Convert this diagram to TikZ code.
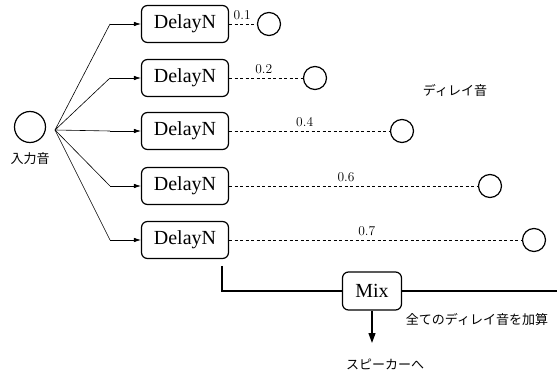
\documentclass[tikz,border=0pt]{standalone}
\usepackage{fontspec}
\newfontfamily\jafont{Noto Sans CJK JP}
\newfontfamily\boxfont{Liberation Serif}
\usetikzlibrary{arrows.meta,positioning}

\begin{document}
\begin{tikzpicture}[x=1pt,y=-1pt]
  % Styles
  \tikzset{
    delay box/.style={draw,line width=1.2pt,rounded corners=6pt,minimum width=87pt,
      minimum height=37pt,inner sep=0pt,font=\boxfont\fontsize{20}{24}\selectfont},
    sound/.style={draw,circle,line width=1.2pt,minimum size=23pt,inner sep=0pt},
    feed/.style={line width=0.6pt,-{Latex[length=7pt,width=4.5pt]}},
    wet line/.style={dash pattern=on 3pt off 2.5pt,line width=0.7pt},
    gain/.style={font=\fontsize{13.5}{15}\selectfont,above=1pt},
    ja text/.style={font=\jafont\fontsize{13}{15}\selectfont},
    mix line/.style={line width=1.2pt}
  }
  \useasboundingbox (0,0) rectangle (557,374);

  % Input
  \node[sound,minimum size=31pt] (in) at (30,127) {};
  \node[ja text,below=6pt of in] (inlabel) {入力音};
  \coordinate (fan) at (55,130);

  % Delay taps
  \foreach \i/\y/\x/\g in {1/24/269/0.1,2/78/315/0.2,3/131/402/0.4,4/186/490/0.6,5/240/534/0.7}{
    \node[delay box] (d\i) at (185,\y) {DelayN};
    \node[sound] (out\i) at (\x,\y) {};
    \draw[line width=0.6pt] (fan) -- (110,\y) coordinate (bend\i);
    \draw[feed] (bend\i) -- (d\i.west);
    \draw[wet line] (d\i.east) -- node[gain,pos=0.47] {\g} (out\i.west);
  }
  \node[ja text] (wetlabel) at (455,90) {ディレイ音};

  % Mix
  \node[delay box,minimum width=59pt,minimum height=38pt] (mix) at (372,291) {Mix};
  \coordinate (mixin) at (222,266);
  \coordinate (mixout) at (557,291);
  \coordinate (spk) at (372,343);
  \draw[mix line] (mixin) |- (mix.west);
  \draw[mix line] (mix.east) -- (mixout);
  \draw[mix line,-{Triangle[length=10pt,width=7pt]}] (mix.south) -- (spk);
  \node[ja text] (sumlabel) at (477,319) {全てのディレイ音を加算};
  \node[ja text] (spklabel) at (385,364) {スピーカーへ};
\end{tikzpicture}
\end{document}
